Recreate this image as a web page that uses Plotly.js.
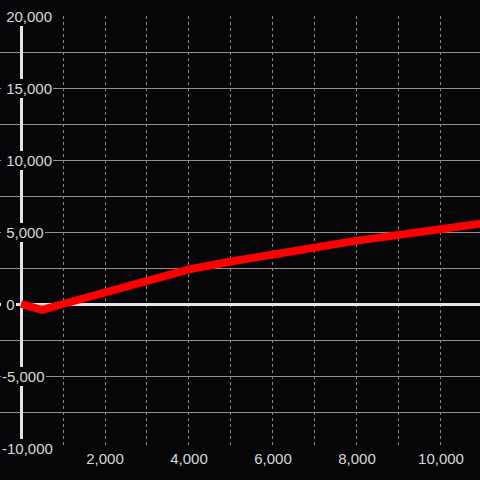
<!DOCTYPE html>
<html>
<head>
<meta charset="utf-8">
<script src="https://cdn.plot.ly/plotly-3.0.1.min.js"></script>
<style>html,body{margin:0;padding:0;background:#060608;}</style>
</head>
<body>
<div id="chart" style="width:480px;height:480px;"></div>
<script>
var xValues = [0, 500, 1000, 2000, 3000, 4000, 5000, 6000, 7000, 8000, 9000, 10000, 11000];
var yValues = [0, -400, 0, 800, 1600, 2400, 2950, 3450, 3950, 4400, 4800, 5200, 5600];
var yTickVals = [-10000, -7500, -5000, -2500, 0, 2500, 5000, 7500, 10000, 12500, 15000, 17500, 20000];
var yTickText = ["-10,000", "", "-5,000", "", "\u00a00", "", "\u00a05,000", "", "\u00a010,000", "", "\u00a015,000", "", "\u00a020,000"];
var xTickVals = [1000, 2000, 3000, 4000, 5000, 6000, 7000, 8000, 9000, 10000];
var xTickText = ["", "2,000", "", "4,000", "", "6,000", "", "8,000", "", "10,000"];

var bg = "#060608";
var textColor = "#d8d8d8";

var trace = {
  x: xValues, y: yValues, type: "scatter", mode: "lines",
  line: {color: "#ff0000", width: 8}, hoverinfo: "none"
};

var yLabels = [];
for (var i = 0; i < yTickVals.length; i++) {
  if (yTickText[i] === "") continue;
  yLabels.push({
    xref: "paper", yref: "y", x: 0, y: yTickVals[i], xanchor: "left", yanchor: "middle",
    xshift: 1, text: yTickText[i], showarrow: false,
    bgcolor: bg, borderpad: 1, borderwidth: 0,
    font: {family: "Liberation Sans, Arial, sans-serif", size: 15, color: textColor}
  });
}

var layout = {
  width: 480, height: 480,
  margin: {l: 0, r: 0, t: 16, b: 32},
  paper_bgcolor: bg, plot_bgcolor: bg,
  font: {family: "Liberation Sans, Arial, sans-serif", size: 15, color: textColor},
  showlegend: false,
  annotations: yLabels,
  xaxis: {
    range: [-500, 10929], tickmode: "array", tickvals: xTickVals, ticktext: xTickText,
    showgrid: true, gridcolor: "#8a8a8a", griddash: "dot", gridwidth: 1,
    zeroline: true, zerolinecolor: "#e4e4e4", zerolinewidth: 3,
    showline: false, ticks: "", tickfont: {size: 15, color: textColor}
  },
  yaxis: {
    range: [-10000, 20000], tickmode: "array", tickvals: yTickVals, ticktext: yTickText,
    showticklabels: false,
    showgrid: true, gridcolor: "#8c918c", gridwidth: 1,
    zeroline: true, zerolinecolor: "#e4e4e4", zerolinewidth: 3,
    showline: false, ticks: ""
  }
};
Plotly.newPlot("chart", [trace], layout, {staticPlot: true});
</script>
</body>
</html>
